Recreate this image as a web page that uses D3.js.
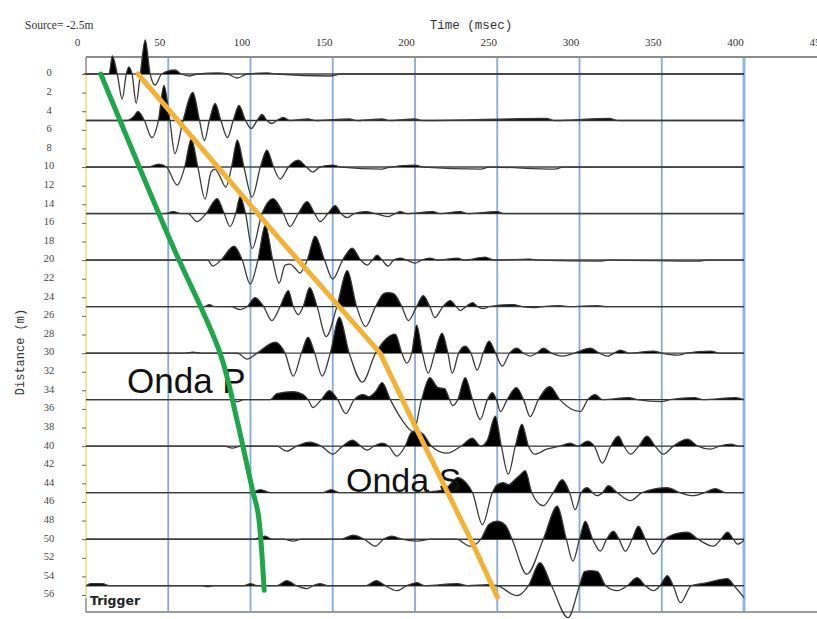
<!DOCTYPE html>
<html><head><meta charset="utf-8">
<script src="https://cdn.jsdelivr.net/npm/d3@7"></script>
<style>body{margin:0;background:#fff}svg{display:block}</style>
</head><body>
<svg id="chart" width="817" height="619"></svg>
<script>
// ---------- data ----------
const timeTicks = [0, 50, 100, 150, 200, 250, 300, 350, 400, 450];
const gridTimes = [50, 100, 150, 200, 250, 300, 350, 400];
const distanceTicks = d3.range(0, 57, 2);
const traceDistances = [0, 5, 10, 15, 20, 25, 30, 35, 40, 45, 50, 55];

// each trace: [time (ms), amplitude (relative units, + = up / filled)]
const trace0 = [[0,0],[14,0],[16,18],[19,0],[22,-25],[24.5,0],[26,7],[28,0],[30.5,-29],[33,0],[36,34],[39,0],[42,-11],[46,0],[54,4],[58,0],[63,-2],[68,0],[80,1],[86,0],[92,-4],[98,0],[110,1],[116,0],[148,-2],[155,0],[400,0]];
const trace1 = [[0,0],[25,0],[29,4],[31.6,9],[35.5,0],[40,-17],[44,0],[47.4,35],[51,0],[54,-33],[59,0],[65,28],[69,0],[72,-20],[75,0],[78.5,17],[82,0],[86,-17],[89.5,0],[93,15],[97,0],[100.5,-8],[104,0],[107,6],[110,0],[113,-3],[116,0],[120,3],[124,0],[135,1.5],[140,0],[160,1.5],[165,0],[180,1.5],[185,0],[200,1.5],[205,0],[280,2],[285,0],[318,2],[324,0],[400,0]];
const trace2 = [[0,0],[38,0],[44,3],[49,0],[55.4,-18],[60,0],[64,28],[68,0],[72.4,-32],[76,-5],[78.5,-2],[81,-8],[85,-20],[88.5,0],[92,27],[96,0],[101,-30],[106,0],[110,17],[114,0],[118,-12],[123,0],[129,7],[134,0],[138,-5],[142,0],[150,2],[155,0],[180,-2],[185,0],[200,2],[205,0],[240,-2],[245,0],[285,-2],[290,0],[400,0]];
const trace3 = [[0,0],[48,0],[53,2],[58,0],[62,0],[67.5,-8],[73,0],[79.7,15],[84,0],[87.6,-13],[91,0],[93.7,17],[97,0],[101,-35],[107,0],[113.7,15],[120,0],[124,-13],[129,0],[134.4,12],[139,0],[142.3,-8],[147,0],[151.5,8],[155,0],[158.8,-4],[163,0],[170,2],[176,0],[183.7,-3],[188,0],[191,2],[195,0],[211,2],[215,0],[227.5,2],[232,0],[250,2],[254,0],[400,0]];
const trace4 = [[0,0],[70,0],[74,0],[77,-6],[82,0],[90,14],[95,0],[99.8,-24],[104.5,0],[109,35],[113.5,0],[117.4,-23],[121,-5],[124,-4],[127,-8],[130,-13],[134.5,0],[139.3,24],[145,0],[150,-19],[156,0],[161.8,12],[167,0],[171,-5],[174,0],[177,5],[180,0],[183.7,-6],[187,0],[191,2],[195,0],[200,-3],[204,0],[209,2],[214,0],[225.7,2],[230,0],[242.7,3],[248,0],[270,1],[275,0],[312,-1],[318,0],[372,-1],[378,0],[400,0]];
const trace5 = [[0,0],[68,0],[72,0],[75,2],[78,0],[88,0],[93.7,-3],[98,0],[102.8,9],[108,0],[113,-14],[118,0],[123,16],[126,0],[129,-8],[132,0],[136,19],[140.5,0],[146,-30],[152.5,0],[158.8,36],[164.5,0],[170,-20],[176,0],[181,13],[183.7,14],[187,13],[192,0],[196,-14],[201,0],[205,11],[209,0],[212,-11],[217,0],[221.4,6],[225,0],[227.5,-4],[231,0],[235,4],[238,0],[241.5,-2],[245,0],[259.7,2],[265,0],[272,-1],[278,0],[288,1],[293,0],[311,1],[316,0],[400,0]];
const trace6 = [[0,0],[60,0],[65,1],[70,0],[92,0],[98,-6],[104,0],[115,11],[121,0],[126,-23],[131,0],[135,16],[139,0],[143.6,-23],[148.5,0],[154,36],[160,0],[168,-29],[176,0],[188,19],[192,0],[195,-10],[198,0],[201,28],[204.5,0],[208,-20],[212,0],[216.5,20],[220,0],[222.6,-20],[226.5,0],[230.5,7],[234,0],[237.8,-17],[241.5,0],[245,12],[249,0],[253,-13],[257.5,0],[262,5],[266,0],[270,-3],[274,0],[278,5],[283,0],[290,-3],[297,0],[306.6,5],[312,0],[317,-3],[321,0],[325,3],[330,0],[345,2],[350,0],[360,-2],[365,0],[380,2],[385,0],[400,0]];
const trace7 = [[0,0],[88,0],[92,-2],[96,0],[112,0],[116,6],[126,8],[132,5],[135,0],[138,-8],[143,0],[148,9],[153,0],[158,-14],[163,0],[168.5,5],[172,3],[176,8],[180,17],[185,0],[192,-20],[199,-32],[204,0],[209,22],[214,12],[218,11],[221,0],[223,-6],[226,0],[230.5,22],[235,0],[239.7,-20],[244,0],[247,7],[249.5,0],[252,-12],[256,0],[261.6,12],[266,0],[270,-17],[275,0],[282,13],[288,0],[300.5,-12],[305,0],[309.6,5],[314,0],[330,2],[335,0],[350,-2],[355,0],[370,2],[375,0],[395,2],[400,0]];
const trace8 = [[0,0],[84,0],[89,-2],[94,0],[116,0],[122,-5],[128,0],[136,4],[143,0],[150,-8],[156,0],[162,6],[167,0],[171,-4],[175,0],[180,3],[184,0],[189,-10],[194,0],[198,14],[201,15],[205,12],[210,0],[219.6,-7],[228,0],[234.8,8],[240,0],[244,6],[248.8,30],[252.5,0],[256.7,-28],[261,0],[265,22],[269,0],[273,-8],[280,-3],[288,0],[294.4,3],[299,0],[304.7,5],[309,0],[313.9,-17],[319,0],[323.6,10],[327,0],[331,-8],[336,0],[341,10],[346,0],[351,-8],[357,0],[365.6,7],[372,0],[379.6,-3],[385,0],[392,2],[397,0],[400,0]];
const trace9 = [[0,0],[100,0],[106,3],[112,0],[144,0],[149,3],[154,0],[200,0],[215,2],[220,6],[226,15],[231,10],[235,0],[241,-32],[247,0],[250,8],[253.6,10],[257,8],[260,12],[264,18],[267,22],[271,0],[278,-13],[284,0],[289.5,13],[294,0],[297.4,-17],[301,0],[304.7,5],[308,0],[310.8,-3],[314,0],[317.5,7],[323,0],[331,-8],[338,0],[353.4,5],[361,0],[369.2,-3],[376,0],[382.6,4],[389,0],[400,0]];
const trace10 = [[0,0],[102,0],[106,2],[109,3],[113,0],[120,0],[126,-2],[131,0],[155,0],[162.4,4],[169,0],[175.8,-7],[181,0],[186,3],[192,0],[201.3,-2],[210,0],[225,0],[233.6,-7],[240,0],[245,15],[250,18],[255,14],[259,0],[268,-35],[278,0],[286.5,33],[292,0],[296,-22],[300,0],[303.5,18],[308,0],[312.7,-12],[316.5,0],[320.6,8],[324,0],[327.9,-12],[332,0],[335.8,13],[340,0],[344.9,-15],[352,0],[360,6],[365.6,7],[372,0],[381.4,-7],[386,0],[390,7],[393.5,0],[396,-5],[400,-1]];
const trace11 = [[0,0],[3,2],[10,2],[14,0],[70,0],[74,-1],[78,0],[96,0],[100,2],[104,0],[116,0],[122,5],[128,0],[134.4,-3],[138,0],[142.3,2],[147,0],[170,0],[176.4,5],[182,0],[189,-5],[195,0],[201.3,3],[206,0],[225.7,2],[232,0],[244,1],[250,0],[262,-10],[269,0],[276,23],[283,0],[293,-32],[300,0],[303,14],[306.6,15],[311,14],[316,0],[323,-5],[329,0],[335,8],[340,0],[345,-5],[349,0],[353.4,10],[357,0],[361.3,-17],[368,0],[377.7,3],[385,6],[390,7],[394,0],[400,-12]];
const traces = [trace0, trace1, trace2, trace3, trace4, trace5, trace6, trace7, trace8, trace9, trace10, trace11];

// first-arrival picks: [time (ms), distance (m)]
const pWavePicks = [[9,0],[51,17.8],[81.5,30],[91.8,37.2],[101.6,45],[104.6,47.2],[108.3,55.5]];
const sWavePicks = [[31.6,0],[118,17.8],[178.8,30],[201.3,38.3],[235.4,50.6],[250,56.2]];

const ampUnitMetres = 0.1075;

// ---------- drawing ----------
const svg = d3.select('#chart');
const x = d3.scaleLinear().domain([0, 400]).range([86, 744]);
const y = d3.scaleLinear().domain([0, 56]).range([74, 595]);
const frameTop = 57, frameBottom = 612, frameLeft = x(0), frameRight = 817;

svg.append('rect').attr('width', 817).attr('height', 619).attr('fill', '#fff');

// vertical grid lines
svg.append('g').selectAll('line').data(gridTimes).join('line')
  .attr('x1', d => x(d)).attr('x2', d => x(d))
  .attr('y1', frameTop).attr('y2', frameBottom)
  .attr('stroke', d => d === 400 ? '#8fb5e6' : '#86a9d8')
  .attr('stroke-width', d => d === 400 ? 3 : 1.8);

// frame lines
svg.append('line').attr('x1', frameLeft).attr('x2', frameRight).attr('y1', frameTop).attr('y2', frameTop)
  .attr('stroke', '#8c8c8c').attr('stroke-width', 2);
svg.append('line').attr('x1', frameLeft).attr('x2', frameRight).attr('y1', frameBottom).attr('y2', frameBottom)
  .attr('stroke', '#9a9a9a').attr('stroke-width', 2);
svg.append('line').attr('x1', frameLeft).attr('x2', frameLeft).attr('y1', frameTop).attr('y2', frameBottom)
  .attr('stroke', '#8c8c8c').attr('stroke-width', 1.5);
svg.append('line').attr('x1', frameLeft).attr('x2', frameLeft).attr('y1', y(0)).attr('y2', y(56) + 3)
  .attr('stroke', '#efe79a').attr('stroke-width', 2);
svg.append('line').attr('x1', frameLeft - 2).attr('x2', frameLeft + 3).attr('y1', y(0)).attr('y2', y(0))
  .attr('stroke', '#d9453a').attr('stroke-width', 2);

// left distance axis
const yAxis = d3.axisLeft(y).tickValues(distanceTicks).tickSize(4).tickPadding(33);
const gy = svg.append('g').attr('transform', `translate(${frameLeft},-1.5)`).call(yAxis);
gy.select('.domain').remove();
gy.selectAll('.tick line').attr('stroke', '#666').attr('transform', 'translate(0,1.5)');
gy.selectAll('.tick text').attr('font-family', '"Liberation Serif", serif').attr('font-size', 10.5)
  .attr('fill', '#444').attr('text-anchor', 'middle');

// top time axis (labels sit slightly left of the grid in the original)
const xAxis = d3.axisTop(x).tickValues(timeTicks).tickSize(0).tickPadding(0);
const gx = svg.append('g').attr('transform', 'translate(-9,46)').call(xAxis);
gx.select('.domain').remove();
gx.selectAll('.tick text').attr('font-family', '"Liberation Serif", serif').attr('font-size', 11)
  .attr('fill', '#333');

// titles
svg.append('text').attr('x', 25).attr('y', 29).text('Source= -2.5m')
  .attr('font-family', '"Liberation Serif", serif').attr('font-size', 11.5).attr('fill', '#333');
svg.append('text').attr('x', 471).attr('y', 29).attr('text-anchor', 'middle').text('Time (msec)')
  .attr('font-family', '"Liberation Mono", monospace').attr('font-size', 12.5).attr('fill', '#333');
svg.append('text').attr('transform', 'translate(24,352) rotate(-90)').attr('text-anchor', 'middle')
  .text('Distance (m)').attr('font-family', '"Liberation Mono", monospace').attr('font-size', 12).attr('fill', '#333');

// traces
const defs = svg.append('defs');
const tracesG = svg.append('g');
traces.forEach((tr, i) => {
  const d0 = traceDistances[i];
  const base = y(d0);
  const yv = a => y(d0 - a * ampUnitMetres);
  defs.append('clipPath').attr('id', 'clip' + i)
    .append('rect').attr('x', 0).attr('y', 0).attr('width', 817).attr('height', base);
  const area = d3.area().x(p => x(p[0])).y0(base).y1(p => yv(p[1])).curve(d3.curveMonotoneX);
  const line = d3.line().x(p => x(p[0])).y(p => yv(p[1])).curve(d3.curveMonotoneX);
  tracesG.append('line').attr('x1', x(0)).attr('x2', x(400)).attr('y1', base).attr('y2', base)
    .attr('stroke', '#444').attr('stroke-width', 1.4);
  tracesG.append('path').datum(tr).attr('d', area).attr('fill', '#000').attr('clip-path', `url(#clip${i})`);
  tracesG.append('path').datum(tr).attr('d', line).attr('fill', 'none')
    .attr('stroke', '#3a3a3a').attr('stroke-width', 1.3);
});

// trigger label
svg.append('text').attr('x', 90).attr('y', 605).text('Trigger')
  .attr('font-family', '"DejaVu Sans", sans-serif').attr('font-weight', 'bold').attr('font-size', 12.5).attr('fill', '#222');

// wave labels
svg.append('text').attr('x', 127).attr('y', 393).text('Onda P')
  .attr('font-family', '"Liberation Sans", Arial, sans-serif').attr('font-size', 35).attr('fill', '#111');
svg.append('text').attr('x', 346).attr('y', 492).text('Onda S')
  .attr('font-family', '"Liberation Sans", Arial, sans-serif').attr('font-size', 34).attr('fill', '#111');

// picked arrivals
const pickLine = d3.line().x(p => x(p[0])).y(p => y(p[1])).curve(d3.curveCatmullRom.alpha(0.5));
svg.append('path').datum(pWavePicks).attr('d', pickLine).attr('fill', 'none')
  .attr('stroke', '#1ea64a').attr('stroke-width', 5).attr('stroke-linecap', 'round');
svg.append('path').datum(sWavePicks).attr('d', d3.line().x(p => x(p[0])).y(p => y(p[1])))
  .attr('fill', 'none').attr('stroke', '#f3b234').attr('stroke-width', 5).attr('stroke-linecap', 'round')
  .attr('stroke-linejoin', 'round');
</script>
</body></html>
